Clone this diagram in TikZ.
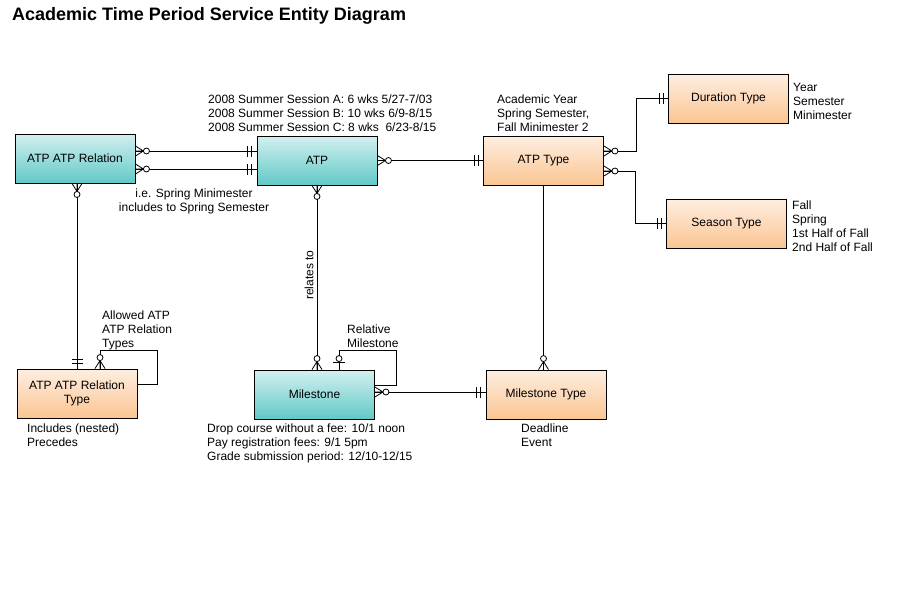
\documentclass[tikz,border=0pt]{standalone}
\usepackage{fontspec}
\setmainfont{Liberation Sans}
\usetikzlibrary{calc}
\definecolor{tealtop}{HTML}{D2F0EF}
\definecolor{tealbot}{HTML}{62C9C7}
\definecolor{orgtop}{HTML}{FEEEE1}
\definecolor{orgbot}{HTML}{FBC592}
\tikzset{
  ent/.style={draw, line width=0.9pt, minimum width=120pt, minimum height=49pt, inner sep=0pt, align=center, font=\fontsize{12}{14}\selectfont},
  tealent/.style={ent, top color=tealtop, bottom color=tealbot},
  orgent/.style={ent, top color=orgtop, bottom color=orgbot},
  lbl/.style={inner sep=0pt, align=left, anchor=base west, font=\fontsize{12}{14}\selectfont},
  conn/.style={line width=0.9pt},
  zmany/.pic={\draw[line width=0.8pt] (0,5)--(8,0)--(0,-5) (0,0)--(8,0);
              \draw[line width=0.8pt, fill=white] (11,0) circle[radius=3pt];},
  onlyone/.pic={\draw[line width=0.8pt] (5,-5.5)--(5,5.5) (9,-5.5)--(9,5.5);},
  zone/.pic={\draw[line width=0.8pt] (7,-6)--(7,6) (0,0)--(8,0);
             \draw[line width=0.8pt, fill=white] (11,0) circle[radius=3pt];}
}
\begin{document}
\begin{tikzpicture}[x=1pt,y=-1pt]
\useasboundingbox[fill=white] (0,0) rectangle (900,600);

% title
\node[inner sep=0pt, anchor=base west, font=\fontsize{18}{20}\selectfont\bfseries] (title) at (12,20) {Academic Time Period Service Entity Diagram};

% entities
\node[tealent] (rel)  at (75,158.5)   {ATP ATP Relation};
\node[tealent] (atp)  at (317,160.5)  {ATP};
\node[orgent]  (atpt) at (543.5,160.5) {ATP Type};
\node[orgent]  (dur)  at (728.5,98.5) {Duration Type};
\node[orgent]  (sea)  at (726.5,223.5) {Season Type};
\node[orgent]  (relt) at (77,393.5)   {ATP ATP Relation\\Type};
\node[tealent] (ms)   at (314.5,394.5) {Milestone};
\node[orgent]  (mst)  at (546,394.5)  {Milestone Type};

% connectors
\draw[conn] (rel.east |- 0,151) -- (atp.west |- 0,151);
\draw[conn] (rel.east |- 0,169) -- (atp.west |- 0,169);
\draw[conn] (atp.east) -- (atpt.west);
\draw[conn] (atpt.east |- 0,151) -- (636,151) |- (dur.west);
\draw[conn] (atpt.east |- 0,171) -- (635,171) |- (sea.west);
\draw[conn] (atpt.south) -- (atpt.south |- mst.north);
\draw[conn] (atp.south) -- (atp.south |- ms.north);
\draw[conn] (relt.north |- rel.south) -- (relt.north);
\draw[conn] (relt.north -| 100,0) -- (100,350) -- (157,350) |- (relt.east |- 0,384);
\draw[conn] (ms.north -| 339,0) -- (339,350) -- (396,350) |- (ms.east |- 0,385);
\draw[conn] (ms.east |- 0,392) -- (mst.west |- 0,392);

% end marks
\pic[rotate=0]   at (rel.east |- 0,151) {zmany};
\pic[rotate=0]   at (rel.east |- 0,169) {zmany};
\pic[rotate=180] at (atp.west |- 0,151) {onlyone};
\pic[rotate=180] at (atp.west |- 0,169) {onlyone};
\pic[rotate=0]   at (atp.east) {zmany};
\pic[rotate=180] at (atpt.west) {onlyone};
\pic[rotate=0]   at (atpt.east |- 0,151) {zmany};
\pic[rotate=0]   at (atpt.east |- 0,171) {zmany};
\pic[rotate=180] at (dur.west) {onlyone};
\pic[rotate=180] at (sea.west) {onlyone};
\pic[rotate=90]  at (atpt.south |- mst.north) {zmany};
\pic[rotate=270] at (atp.south) {zmany};
\pic[rotate=90]  at (atp.south |- ms.north) {zmany};
\pic[rotate=270] at (relt.north |- rel.south) {zmany};
\pic[rotate=90]  at (relt.north) {onlyone};
\pic[rotate=90]  at (relt.north -| 100,0) {zmany};
\pic[rotate=90]  at (ms.north -| 339,0) {zone};
\pic[rotate=0]   at (ms.east |- 0,392) {zmany};
\pic[rotate=180] at (mst.west |- 0,392) {onlyone};

% labels (base anchor = baseline of the last line)
\node[lbl] (l1) at (208,131) {2008 Summer Session A: 6 wks 5/27-7/03\\2008 Summer Session B: 10 wks 6/9-8/15\\2008 Summer Session C: 8 wks\ \ 6/23-8/15};
\node[lbl, align=center, anchor=base] (l2) at (194,211) {i.e. Spring Minimester\\includes to Spring Semester};
\node[lbl] (l3) at (497,131) {Academic Year\\Spring Semester,\\Fall Minimester 2};
\node[lbl] (l4) at (793,119) {Year\\Semester\\Minimester};
\node[lbl] (l5) at (792,251) {Fall\\Spring\\1st Half of Fall\\2nd Half of Fall};
\node[lbl] (l6) at (102,347) {Allowed ATP\\ATP Relation\\Types};
\node[lbl] (l7) at (347,347) {Relative\\Milestone};
\node[lbl] (l8) at (27,446) {Includes (nested)\\Precedes};
\node[lbl] (l9) at (207,460) {Drop course without a fee: 10/1 noon\\Pay registration fees: 9/1 5pm\\Grade submission period: 12/10-12/15};
\node[lbl] (l10) at (521,446) {Deadline\\Event};
\node[inner sep=0pt, rotate=90, font=\fontsize{12}{14}\selectfont] (l11) at (309,275) {relates to};
\end{tikzpicture}
\end{document}
